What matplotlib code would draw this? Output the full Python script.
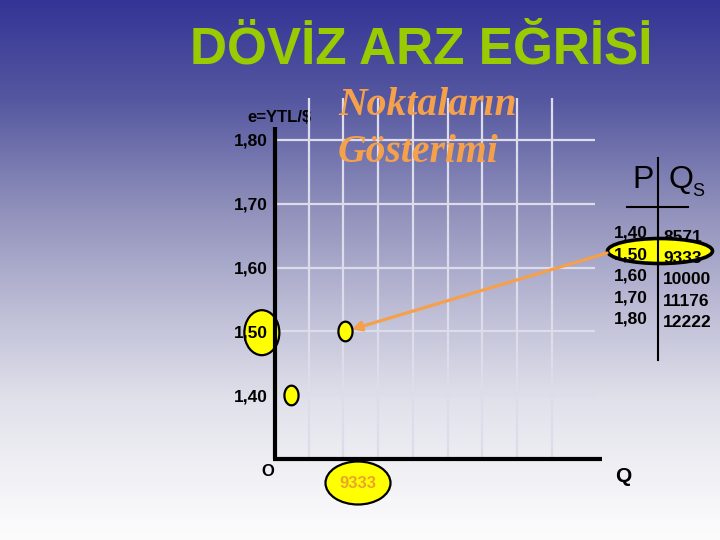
import numpy as np
import matplotlib
matplotlib.use("Agg")
import matplotlib.pyplot as plt
from matplotlib.patches import Ellipse
from matplotlib.transforms import blended_transform_factory

# table data (P = kur, Qs = döviz arzı)
p_vals = [1.40, 1.50, 1.60, 1.70, 1.80]
qs_vals = [8571, 9333, 10000, 11176, 12222]
p_labels = ["1,40", "1,50", "1,60", "1,70", "1,80"]
qs_labels = ["8571", "9333", "10000", "11176", "12222"]
n_shown = 2          # noktalar: ilk iki satir grafikte
highlight = 1        # 1,50 - 9333 satiri

title = "DÖVİZ ARZ EĞRİSİ"
orange = "#F5A04A"
green = "#99CC00"
grid_col = "#DCDCEA"
bold_font = ["Liberation Sans", "DejaVu Sans"]

fig = plt.figure(figsize=(7.2, 5.4), dpi=100)

# arka plan: piksel koordinatli eksen
bg = fig.add_axes([0, 0, 1, 1])
bg.set_xlim(0, 720)
bg.set_ylim(540, 0)
bg.axis("off")
stops_y = [0, 100, 200, 300, 400, 500, 540]
stops_c = np.array([(52, 52, 150), (85, 88, 160), (140, 140, 185), (185, 185, 212),
                    (225, 225, 235), (246, 246, 249), (252, 252, 253)]) / 255.0
yy = np.arange(540)
grad = np.stack([np.interp(yy, stops_y, stops_c[:, k]) for k in range(3)], axis=1)
bg.imshow(grad[:, None, :], extent=[0, 720, 540, 0], aspect="auto", zorder=0)

# baslik ve yazilar
bg.text(421, 63, title, color=green, fontsize=37, fontweight="bold",
        family=bold_font, ha="center", va="baseline")
# izgaranin ustunde kalsin diye figure text
fig.text(338, 115, "Noktaların", transform=bg.transData, color=orange,
         fontsize=28.5, style="italic", fontweight="bold",
         family=["Liberation Serif", "DejaVu Serif"], ha="left", va="baseline")
fig.text(338, 162, "Gösterimi", transform=bg.transData, color=orange,
         fontsize=28.5, style="italic", fontweight="bold",
         family=["Liberation Serif", "DejaVu Serif"], ha="left", va="baseline")
bg.text(279, 117, "e=YTL/$", fontsize=12, fontweight="bold",
        family=bold_font, ha="center", va="center")
bg.text(268, 471, "O", fontsize=12, fontweight="bold", family=bold_font,
        ha="center", va="center")
bg.text(623, 476, "Q", fontsize=15, fontweight="bold", family=bold_font,
        ha="center", va="center")

# alt etiket 9333
bg.add_patch(Ellipse((358, 483), 65, 43, facecolor="#FFFF00", edgecolor="black",
                     lw=1.6, zorder=3))
bg.text(358, 484, qs_labels[highlight], color="#EBA52A", fontsize=12,
        fontweight="bold", family=bold_font, ha="center", va="center", zorder=4)

# tablo
bg.text(654, 188, "P", fontsize=23, family=bold_font, ha="right", va="baseline")
bg.text(668, 188, "Q", fontsize=23, family=bold_font, ha="left", va="baseline")
bg.text(692, 196, "S", fontsize=13, family=bold_font, ha="left", va="baseline")
bg.plot([658, 658], [158, 360], color="black", lw=1.5, zorder=6)
bg.plot([627, 688], [207, 207], color="black", lw=1.5, zorder=6)
bg.add_patch(Ellipse((660, 251), 105, 25, facecolor="#FFFF00", edgecolor="black",
                     lw=2.6, zorder=3))
row_y = 233
for i in range(len(p_vals)):
    z = 5 if i == highlight else 2
    bg.text(648, row_y + i * 21.6, p_labels[i], fontsize=12.5, fontweight="bold",
            family=bold_font, ha="right", va="center", zorder=z)
    bg.text(663, row_y + 4 + i * 21.4, qs_labels[i], fontsize=12.5, fontweight="bold",
            family=bold_font, ha="left", va="center", zorder=z)

# grafik ekseni
ax = fig.add_axes([274 / 720, 81 / 540, 328 / 720, 361 / 540])
ax.patch.set_alpha(0)
q0 = 8331
ax.set_xlim(q0, q0 + 4628)
ax.set_ylim(1.30, 1.30 + 361 / 638)
for s in ax.spines.values():
    s.set_visible(False)
ax.set_xticks([])
ax.set_yticks(p_vals, p_labels)
ax.tick_params(axis="y", length=0, pad=4.5)
for lab in ax.get_yticklabels():
    lab.set_fontsize(12.5)
    lab.set_fontweight("bold")
    lab.set_family(bold_font)

# izgara
grid_x = [q0 + 490.3 * (i + 1) for i in range(8)]
ax.vlines(grid_x, 1.30, 1.30 + 361 / 638, color=grid_col, lw=1.6, zorder=1)
ax.hlines(p_vals, q0, q0 + 4530, color=grid_col, lw=1.6, zorder=1)

# eksen cizgileri
ax.plot([q0 + 14, q0 + 14], [1.30, 1.82], color="black", lw=3, zorder=3,
        clip_on=False, solid_capstyle="butt")
ax.plot([q0 - 15, q0 + 4628], [1.30, 1.30], color="black", lw=3, zorder=3,
        clip_on=False, solid_capstyle="butt")

# 1,50 etiketinin etrafindaki elips (etiketlerin altinda)
tr = blended_transform_factory(ax.transAxes, ax.transData)
ax.add_patch(Ellipse((-0.037, p_vals[highlight] - 0.002), 35 / 328, 0.0705,
                     transform=tr, facecolor="#FFFF00", edgecolor="black",
                     lw=1.6, zorder=1.2, clip_on=False))

# noktalar
t = np.linspace(0, 2 * np.pi, 60)
oval = np.column_stack([0.72 * np.cos(t), np.sin(t)])
ax.scatter(qs_vals[:n_shown], p_vals[:n_shown], marker=oval, s=200,
           facecolor="#FFFF00", edgecolor="black", linewidths=1.6, zorder=4,
           clip_on=False)

# ok
ax.annotate("", xy=(qs_vals[highlight], p_vals[highlight]), xytext=(607, 253),
            textcoords=bg.transData,
            arrowprops=dict(arrowstyle="-|>", color=orange, lw=2.3,
                            shrinkA=0, shrinkB=5, mutation_scale=14))

fig.savefig("out.png", dpi=100)
